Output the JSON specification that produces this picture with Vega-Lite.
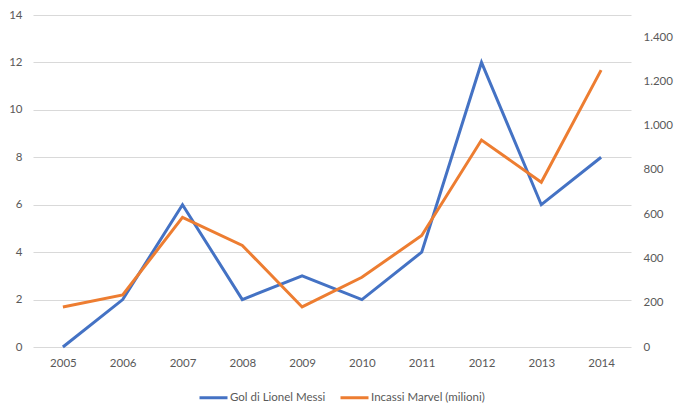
{
  "$schema": "https://vega.github.io/schema/vega-lite/v6.json",
  "width": 598,
  "height": 332,
  "autosize": {"type": "none"},
  "padding": {"left": 33, "top": 15, "right": 51, "bottom": 63},
  "background": "white",
  "config": {
    "view": {"stroke": null},
    "font": "Lato",
    "axis": {"labelColor": "#595959", "labelFontSize": 11.5, "labelFont": "Lato", "domain": false, "ticks": false},
    "legend": {"labelColor": "#595959", "labelFontSize": 11.5, "labelFont": "Lato"}
  },
  "data": {
    "values": [
      {"anno": "2005", "gol": 0, "incassi": 181},
      {"anno": "2006", "gol": 2, "incassi": 235},
      {"anno": "2007", "gol": 6, "incassi": 586},
      {"anno": "2008", "gol": 2, "incassi": 459},
      {"anno": "2009", "gol": 3, "incassi": 181},
      {"anno": "2010", "gol": 2, "incassi": 315},
      {"anno": "2011", "gol": 4, "incassi": 504},
      {"anno": "2012", "gol": 12, "incassi": 935},
      {"anno": "2013", "gol": 6, "incassi": 744},
      {"anno": "2014", "gol": 8, "incassi": 1251}
    ]
  },
  "encoding": {
    "x": {
      "field": "anno", "type": "ordinal",
      "scale": {"type": "point", "padding": 0.5},
      "axis": {"title": null, "labelAngle": 0, "grid": false, "labelPadding": 10}
    }
  },
  "layer": [
    {
      "mark": {"type": "line", "strokeWidth": 3, "strokeJoin": "miter"},
      "encoding": {
        "y": {
          "field": "gol", "type": "quantitative",
          "scale": {"domain": [0, 14], "nice": false},
          "axis": {"title": null, "values": [0, 2, 4, 6, 8, 10, 12, 14], "gridColor": "#D9D9D9", "labelPadding": 11, "orient": "left"}
        },
        "color": {
          "datum": "Gol di Lionel Messi",
          "type": "nominal",
          "scale": {"domain": ["Gol di Lionel Messi", "Incassi Marvel (milioni)"], "range": ["#4472C4", "#ED7D31"]},
          "legend": {
            "title": null, "orient": "none", "direction": "horizontal",
            "legendX": 165, "legendY": 367,
            "symbolType": "stroke", "symbolSize": 784, "symbolStrokeWidth": 3,
            "columnPadding": 8, "labelOffset": 1
          }
        }
      }
    },
    {
      "mark": {"type": "line", "strokeWidth": 3, "strokeJoin": "miter"},
      "encoding": {
        "y": {
          "field": "incassi", "type": "quantitative",
          "scale": {"domain": [0, 1500], "nice": false},
          "axis": {"title": null, "values": [0, 200, 400, 600, 800, 1000, 1200, 1400], "grid": false, "orient": "right", "labelPadding": 12, "labelExpr": "replace(format(datum.value, ',d'), ',', '.')"}
        },
        "color": {"datum": "Incassi Marvel (milioni)", "type": "nominal"}
      }
    }
  ],
  "resolve": {"scale": {"y": "independent"}}
}
